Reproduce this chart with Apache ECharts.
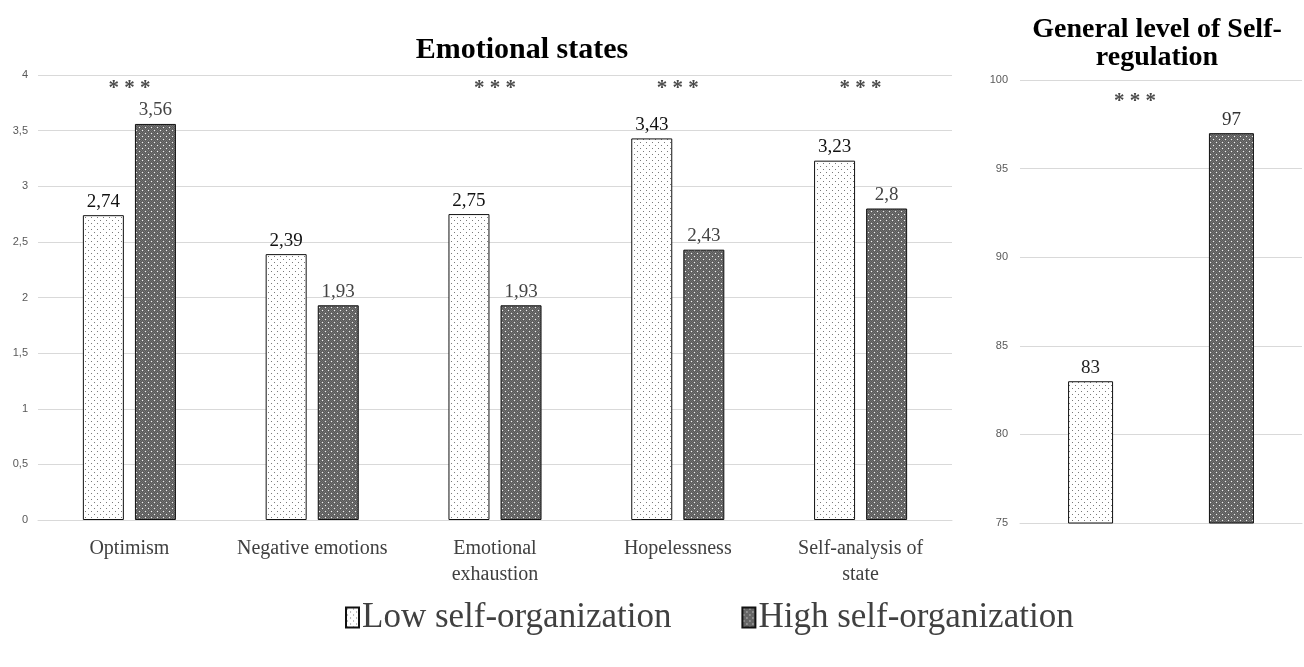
<!DOCTYPE html>
<html>
<head>
<meta charset="utf-8">
<script src="https://cdn.jsdelivr.net/npm/echarts@6/dist/echarts.min.js"></script>
<style>
  html, body { margin: 0; padding: 0; background: #fff; }
  #chart { width: 1304px; height: 667px; }
</style>
</head>
<body>
<div id="chart"></div>
<script>
// emotional states (left panel)
const categories = ['Optimism', 'Negative emotions', 'Emotional\nexhaustion', 'Hopelessness', 'Self-analysis of\nstate'];
const lowValues = [2.74, 2.39, 2.75, 3.43, 3.23];
const highValues = [3.56, 1.93, 1.93, 2.43, 2.8];
const significance = ['***', '', '***', '***', '***'];

// general level of self-regulation (right panel)
const regCategories = ['Self-regulation'];
const regLow = [83];
const regHigh = [97];
const regSignificance = ['***'];

const seriesNames = ['Low self-organization', 'High self-organization'];
const serif = '"Liberation Serif", "Times New Roman", serif';

// dotted fills like the original hatch patterns
function makePattern(bg, dot, checker) {
  const c = document.createElement('canvas');
  c.width = 6; c.height = 6;
  const ctx = c.getContext('2d');
  ctx.fillStyle = bg;
  ctx.fillRect(0, 0, 6, 6);
  if (checker) {
    ctx.fillStyle = checker;
    for (let y = 0; y < 6; y++) {
      for (let x = (y % 2); x < 6; x += 2) ctx.fillRect(x, y, 1, 1);
    }
  }
  ctx.fillStyle = dot;
  ctx.fillRect(1, 1, 1, 1);
  ctx.fillRect(4, 4, 1, 1);
  return { image: c, repeat: 'repeat' };
}
const lowFill = makePattern('#ffffff', '#7a7a7a');
const highFill = makePattern('#727272', '#f2f2f2', '#5a5a5a');

const comma = v => String(v).replace('.', ',');

const chartDom = document.getElementById('chart');
const myChart = echarts.init(chartDom);

function barSeries(name, data, fill, xi, labelColor, gap) {
  return {
    name: name,
    type: 'bar',
    xAxisIndex: xi,
    yAxisIndex: xi,
    data: data,
    barWidth: xi === 0 ? 41 : 45,
    barGap: gap,
    itemStyle: { color: fill, borderColor: '#111', borderWidth: 1 },
    label: {
      show: true,
      position: 'top',
      distance: 4,
      fontFamily: serif,
      fontSize: 19,
      color: labelColor,
      formatter: p => comma(p.value)
    }
  };
}

function sigSeries(cats, sigs, y, xi, shift) {
  return {
    name: 'sig',
    type: 'scatter',
    xAxisIndex: xi,
    yAxisIndex: xi,
    symbolSize: 0,
    silent: true,
    data: cats.map((c, i) => sigs[i] ? { value: [c, y], name: sigs[i] } : null).filter(d => d),
    label: {
      show: true,
      position: 'inside',
      offset: [shift, 0],
      fontFamily: serif,
      fontSize: 21,
      fontWeight: 'bold',
      color: '#1a1a1a',
      formatter: p => p.name.split('').join(' ')
    }
  };
}

const option = {
  animation: false,
  title: [
    {
      text: 'Emotional states',
      left: 517, top: 30, textAlign: 'center',
      textStyle: { fontFamily: serif, fontSize: 30, fontWeight: 'bold', color: '#000' }
    },
    {
      text: 'General level of Self-\nregulation',
      left: 1152, top: 11, textAlign: 'center',
      textStyle: { fontFamily: serif, fontSize: 28, fontWeight: 'bold', color: '#000', lineHeight: 28 }
    }
  ],
  legend: {
    data: seriesNames,
    left: 340,
    top: 595,
    itemWidth: 13,
    itemHeight: 20,
    itemGap: 70,
    icon: 'rect',
    textStyle: { fontFamily: serif, fontSize: 35, color: '#404040', padding: [0, 0, 0, -2] }
  },
  grid: [
    { left: 38, width: 914, top: 75, height: 445 },
    { left: 1020, width: 282, top: 80, height: 443 }
  ],
  xAxis: [
    {
      type: 'category', gridIndex: 0, data: categories,
      axisTick: { show: false },
      axisLine: { lineStyle: { color: '#d9d9d9' } },
      axisLabel: { interval: 0, fontFamily: serif, fontSize: 20, color: '#404040', lineHeight: 26, margin: 16 }
    },
    {
      type: 'category', gridIndex: 1, data: regCategories,
      axisTick: { show: false },
      axisLine: { lineStyle: { color: '#d9d9d9' } },
      axisLabel: { show: false }
    }
  ],
  yAxis: [
    {
      type: 'value', gridIndex: 0, min: 0, max: 4, interval: 0.5,
      axisLine: { show: false }, axisTick: { show: false },
      splitLine: { lineStyle: { color: '#d9d9d9' } },
      axisLabel: { fontFamily: '"Liberation Sans", sans-serif', fontSize: 11, color: '#595959', margin: 10, formatter: v => comma(v) }
    },
    {
      type: 'value', gridIndex: 1, min: 75, max: 100, interval: 5,
      axisLine: { show: false }, axisTick: { show: false },
      splitLine: { lineStyle: { color: '#d9d9d9' } },
      axisLabel: { fontFamily: '"Liberation Sans", sans-serif', fontSize: 11, color: '#595959', margin: 12 }
    }
  ],
  series: [
    barSeries(seriesNames[0], lowValues, lowFill, 0, '#111', '27%'),
    barSeries(seriesNames[1], highValues, highFill, 0, '#444', '27%'),
    barSeries(seriesNames[0], regLow, lowFill, 1, '#222', '213%'),
    barSeries(seriesNames[1], regHigh, highFill, 1, '#333', '213%'),
    sigSeries(categories, significance, 3.88, 0, 0),
    sigSeries(regCategories, regSignificance, 98.8, 1, -26)
  ]
};
option && myChart.setOption(option);
</script>
</body>
</html>
